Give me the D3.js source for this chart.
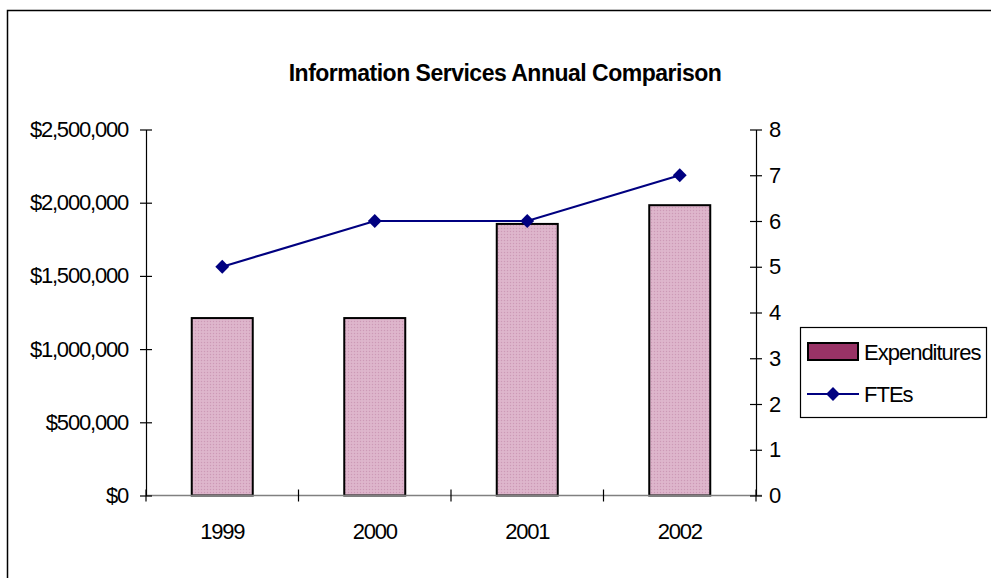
<!DOCTYPE html>
<html>
<head>
<meta charset="utf-8">
<script src="https://cdn.jsdelivr.net/npm/d3@7"></script>
<style>
  html, body { margin: 0; padding: 0; background: #fff; }
  svg { display: block; font-family: "Liberation Sans", Arial, sans-serif; }
</style>
</head>
<body>
<svg id="chart" width="991" height="578"></svg>
<script>
// Annual figures for Information Services
const years = ["1999", "2000", "2001", "2002"];
const expenditures = [1212000, 1212000, 1855000, 1983000];
const ftes = [5, 6, 6, 7];
const leftTicks = [0, 500000, 1000000, 1500000, 2000000, 2500000];
const rightTicks = [0, 1, 2, 3, 4, 5, 6, 7, 8];
const seriesNames = ["Expenditures", "FTEs"];

const svg = d3.select("#chart");
const W = 991, H = 578;
const plot = { left: 146, right: 756, top: 129.5, bottom: 495.5 };
const FONT = "Liberation Sans, Arial, sans-serif";

// Outer chart frame (extends past the right and bottom edges)
svg.append("rect")
  .attr("x", 7.5).attr("y", 10.5)
  .attr("width", W + 20).attr("height", H + 20)
  .attr("fill", "#fff").attr("stroke", "#000").attr("stroke-width", 1.5);

// Dotted fill used for the bars
const defs = svg.append("defs");
const pat = defs.append("pattern")
  .attr("id", "dots").attr("patternUnits", "userSpaceOnUse")
  .attr("width", 3).attr("height", 3);
pat.append("rect").attr("width", 3).attr("height", 3).attr("fill", "#dcb2c9");
pat.append("rect").attr("x", 0).attr("y", 0).attr("width", 1).attr("height", 1).attr("fill", "#cc9ab6");
pat.append("rect").attr("x", 1.5).attr("y", 1.5).attr("width", 1).attr("height", 1).attr("fill", "#e6c4d7");

const x = d3.scaleBand().domain(years).range([plot.left, plot.right]).paddingInner(0.6).paddingOuter(0.3);
const xStep = (plot.right - plot.left) / years.length;
const yL = d3.scaleLinear().domain([0, 2500000]).range([plot.bottom, plot.top]);
const yR = d3.scaleLinear().domain([0, 8]).range([plot.bottom, plot.top]);

// Title
svg.append("text")
  .attr("x", 505).attr("y", 81)
  .attr("text-anchor", "middle")
  .attr("font-size", 23).attr("font-weight", "bold")
  .attr("letter-spacing", -0.5)
  .text("Information Services Annual Comparison");

// Bars
svg.append("g").selectAll("rect")
  .data(years)
  .join("rect")
  .attr("x", (d) => x(d))
  .attr("y", (d, i) => yL(expenditures[i]))
  .attr("width", x.bandwidth())
  .attr("height", (d, i) => plot.bottom - yL(expenditures[i]))
  .attr("fill", "url(#dots)")
  .attr("stroke", "#000").attr("stroke-width", 2);

// Category baseline
svg.append("line")
  .attr("x1", plot.left).attr("x2", plot.right + 6)
  .attr("y1", plot.bottom).attr("y2", plot.bottom)
  .attr("stroke", "#808080").attr("stroke-width", 1.5);

// Left value axis
const leftAxis = d3.axisLeft(yL).tickValues(leftTicks)
  .tickSizeInner(6).tickSizeOuter(0).tickPadding(12)
  .tickFormat((d) => "$" + d3.format(",")(d));
const gL = svg.append("g").attr("transform", `translate(${plot.left},0)`).call(leftAxis);
gL.select(".domain").attr("stroke", "#000").attr("stroke-width", 1.2);
gL.selectAll(".tick line").attr("x1", -6).attr("x2", 6).attr("stroke", "#000").attr("stroke-width", 1.2);
gL.selectAll(".tick text").attr("font-size", 22).attr("letter-spacing", -1.2).attr("fill", "#000")
  .attr("font-family", FONT);

// Right FTE axis
const rightAxis = d3.axisRight(yR).tickValues(rightTicks)
  .tickSizeInner(6).tickSizeOuter(0).tickPadding(7);
const gR = svg.append("g").attr("transform", `translate(${plot.right},0)`).call(rightAxis);
gR.select(".domain").attr("stroke", "#000").attr("stroke-width", 1.2);
gR.selectAll(".tick line").attr("x1", -6).attr("x2", 6).attr("stroke", "#000").attr("stroke-width", 1.2);
gR.selectAll(".tick text").attr("font-size", 22).attr("fill", "#000")
  .attr("font-family", FONT);

// Category tick marks at band boundaries
svg.append("g").selectAll("line")
  .data(d3.range(years.length + 1))
  .join("line")
  .attr("x1", (i) => plot.left + i * xStep).attr("x2", (i) => plot.left + i * xStep)
  .attr("y1", plot.bottom - 6).attr("y2", plot.bottom + 6)
  .attr("stroke", "#000").attr("stroke-width", 1.2);

// Category labels
svg.append("g").selectAll("text")
  .data(years)
  .join("text")
  .attr("x", (d) => x(d) + x.bandwidth() / 2)
  .attr("y", 539)
  .attr("text-anchor", "middle")
  .attr("font-size", 22).attr("letter-spacing", -1.2)
  .text((d) => d);

// FTE line with diamond markers
const cx = (i) => x(years[i]) + x.bandwidth() / 2;
const line = d3.line().x((d, i) => cx(i)).y((d) => yR(d));
svg.append("path")
  .datum(ftes)
  .attr("d", line)
  .attr("fill", "none").attr("stroke", "#000080").attr("stroke-width", 2.2);
const diamond = d3.symbol().type(d3.symbolSquare).size(96);
svg.append("g").selectAll("path")
  .data(ftes)
  .join("path")
  .attr("d", diamond)
  .attr("transform", (d, i) => `translate(${cx(i)},${yR(d)}) rotate(45)`)
  .attr("fill", "#000080");

// Legend
const lg = svg.append("g");
lg.append("rect")
  .attr("x", 800.5).attr("y", 327.5).attr("width", 186).attr("height", 90)
  .attr("fill", "#fff").attr("stroke", "#000").attr("stroke-width", 1.2);
lg.append("rect")
  .attr("x", 808).attr("y", 343).attr("width", 50).attr("height", 17)
  .attr("fill", "#993366").attr("stroke", "#000").attr("stroke-width", 2);
lg.append("text").attr("x", 864).attr("y", 360)
  .attr("font-size", 22).attr("letter-spacing", -1).text(seriesNames[0]);
lg.append("line")
  .attr("x1", 807).attr("x2", 859).attr("y1", 394).attr("y2", 394)
  .attr("stroke", "#000080").attr("stroke-width", 2.2);
lg.append("path").attr("d", diamond)
  .attr("transform", "translate(833,394) rotate(45)").attr("fill", "#000080");
lg.append("text").attr("x", 864).attr("y", 402)
  .attr("font-size", 22).attr("letter-spacing", -1).text(seriesNames[1]);
</script>
</body>
</html>
